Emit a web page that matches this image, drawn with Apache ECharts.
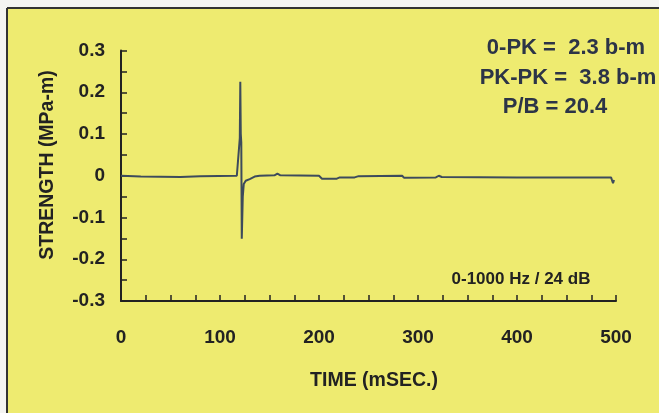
<!DOCTYPE html>
<html>
<head>
<meta charset="utf-8">
<script src="https://cdn.jsdelivr.net/npm/echarts@6/dist/echarts.min.js"></script>
<style>html,body{margin:0;padding:0;background:#f4f4f2;}#c{width:659px;height:413px;}</style>
</head>
<body>
<div id="c"></div>
<script>
// Data
var timeMs = [0, 20, 60, 80, 117, 119, 120, 120.5, 121, 121.5, 122, 123, 124, 126, 130, 135, 140, 155, 158, 161, 200, 203, 218, 221, 236, 240, 284, 286, 318, 321, 324, 400, 495, 497, 498];
var strength = [0.000, -0.002, -0.003, -0.001, 0.000, 0.002, 0.09, 0.225, 0.10, 0.08, -0.151, -0.05, -0.02, -0.012, -0.008, -0.002, 0.000, 0.001, 0.005, 0.001, 0.000, -0.007, -0.007, -0.004, -0.004, -0.001, 0.000, -0.005, -0.004, 0.000, -0.003, -0.004, -0.004, -0.018, -0.010];
var annotations = ['0-PK =  2.3 b-m', 'PK-PK =  3.8 b-m', 'P/B = 20.4'];
var filterNote = '0-1000 Hz / 24 dB';
var xName = 'TIME (mSEC.)';
var yName = 'STRENGTH (MPa-m)';

var pts = timeMs.map(function (t, i) { return [t, strength[i]]; });
var FONT = '"Liberation Sans", Arial, sans-serif';
var TXT = '#222222';
var NAVY = '#2c3447';

var chart = echarts.init(document.getElementById('c'), null, { renderer: 'canvas' });
chart.setOption({
  animation: false,
  backgroundColor: '#f4f4f2',
  graphic: [
    { type: 'rect', z: -10, shape: { x: 7, y: 8, width: 652, height: 405 }, style: { fill: '#eeeb70' } },
    { type: 'line', z: -9, shape: { x1: 7, y1: 8, x2: 659, y2: 8 }, style: { stroke: '#333', lineWidth: 2 } },
    { type: 'line', z: -9, shape: { x1: 7, y1: 8, x2: 7, y2: 413 }, style: { stroke: '#333', lineWidth: 2 } },
    { type: 'text', style: { text: annotations[0], x: 566, y: 48, align: 'center', verticalAlign: 'middle', font: 'bold 22px ' + FONT, fill: NAVY } },
    { type: 'text', style: { text: annotations[1], x: 568, y: 78, align: 'center', verticalAlign: 'middle', font: 'bold 22px ' + FONT, fill: NAVY } },
    { type: 'text', style: { text: annotations[2], x: 555, y: 107, align: 'center', verticalAlign: 'middle', font: 'bold 22px ' + FONT, fill: NAVY } },
    { type: 'text', style: { text: filterNote, x: 521, y: 279, align: 'center', verticalAlign: 'middle', font: 'bold 17px ' + FONT, fill: TXT } },
    { type: 'text', x: 374, y: 381, style: { text: xName, x: 0, y: 0, align: 'center', verticalAlign: 'middle', font: 'bold 19.5px ' + FONT, fill: TXT } },
    { type: 'text', x: 48, y: 165, rotation: Math.PI / 2, style: { text: yName, x: 0, y: 0, align: 'center', verticalAlign: 'middle', font: 'bold 19.5px ' + FONT, fill: TXT } }
  ],
  grid: { left: 121, right: 43, top: 50.5, bottom: 112, containLabel: false },
  xAxis: {
    type: 'value', min: 0, max: 500, interval: 25,
    axisLine: { show: true, onZero: false, lineStyle: { color: '#222', width: 2 } },
    axisTick: { show: true, inside: true, length: 6, lineStyle: { color: '#222', width: 1.5 } },
    splitLine: { show: false },
    axisLabel: {
      margin: 27, fontFamily: FONT, fontWeight: 'bold', fontSize: 19, color: TXT,
      formatter: function (v) { return Math.round(v) % 100 === 0 ? String(Math.round(v)) : ''; }
    }
  },
  yAxis: {
    type: 'value', min: -0.3, max: 0.3, interval: 0.05,
    axisLine: { show: true, onZero: false, lineStyle: { color: '#222', width: 2 } },
    axisTick: { show: true, inside: true, length: 6, lineStyle: { color: '#222', width: 1.5 } },
    splitLine: { show: false },
    axisLabel: {
      margin: 16, fontFamily: FONT, fontWeight: 'bold', fontSize: 19, color: TXT,
      formatter: function (v) {
        var k = Math.round(v * 100);
        if (k % 10 !== 0) return '';
        return k === 0 ? '0' : (k / 100).toFixed(1);
      }
    }
  },
  series: [{
    type: 'line', data: pts, symbol: 'none', smooth: false,
    lineStyle: { color: '#3d4b5c', width: 2 }
  }]
});
</script>
</body>
</html>
